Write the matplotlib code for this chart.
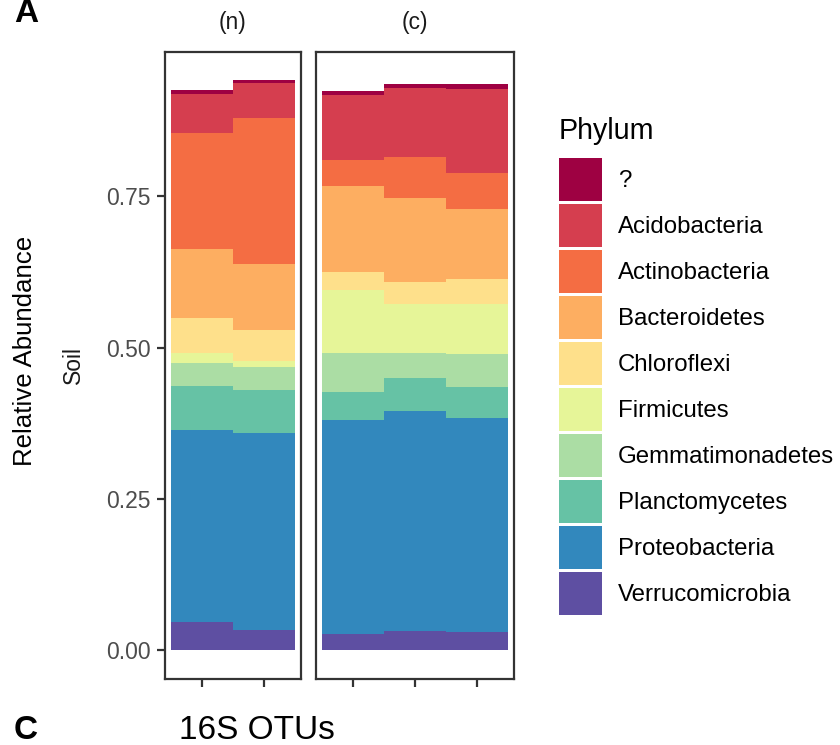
import matplotlib
matplotlib.use("Agg")
import matplotlib.pyplot as plt
from matplotlib.patches import Patch
import numpy as np

plt.rcParams['font.family'] = ['Liberation Sans', 'DejaVu Sans']

# Phyla (legend order, top of stack first) and Spectral palette
phyla = ['?', 'Acidobacteria', 'Actinobacteria', 'Bacteroidetes', 'Chloroflexi',
         'Firmicutes', 'Gemmatimonadetes', 'Planctomycetes', 'Proteobacteria',
         'Verrucomicrobia']
colors = ['#9E0142', '#D53E4F', '#F46D43', '#FDAE61', '#FEE08B',
          '#E6F598', '#ABDDA4', '#66C2A5', '#3288BD', '#5E4FA2']

# Facets and number of samples in each
facets = ['(n)', '(c)']
n_samples = [2, 3]

# Relative abundance per sample: n1, n2, c1, c2, c3
unknown = [0.0065, 0.005, 0.008, 0.007, 0.008]
acidobacteria = [0.064, 0.058, 0.107, 0.114, 0.140]
actinobacteria = [0.193, 0.240, 0.043, 0.068, 0.058]
bacteroidetes = [0.114, 0.109, 0.142, 0.139, 0.117]
chloroflexi = [0.058, 0.051, 0.030, 0.036, 0.041]
firmicutes = [0.015, 0.010, 0.104, 0.081, 0.083]
gemmatimonadetes = [0.038, 0.038, 0.064, 0.041, 0.054]
planctomycetes = [0.0726, 0.071, 0.046, 0.054, 0.051]
proteobacteria = [0.318, 0.326, 0.354, 0.364, 0.353]
verrucomicrobia = [0.047, 0.034, 0.027, 0.032, 0.031]

series = [unknown, acidobacteria, actinobacteria, bacteroidetes, chloroflexi,
          firmicutes, gemmatimonadetes, planctomycetes, proteobacteria,
          verrucomicrobia]

yticks = [0.0, 0.25, 0.5, 0.75]
ytick_labels = ['0.00', '0.25', '0.50', '0.75']

W, H = 840, 745
fig = plt.figure(figsize=(W / 100, H / 100), dpi=100)

top_px, bot_px = 51.7, 679
panel_left = [165, 316]
panel_width = [136, 198]

data = np.array(series)  # (phyla, samples)
totals = data.sum(axis=0)
ymax = totals.max()
ylim = (-0.05 * ymax, 1.05 * ymax)

border_col = '#333333'
small = 16.5

start = 0
axes = []
for fi, (facet, ns) in enumerate(zip(facets, n_samples)):
    ax = fig.add_axes([panel_left[fi] / W, (H - bot_px) / H,
                       panel_width[fi] / W, (bot_px - top_px) / H])
    axes.append(ax)
    cols = data[:, start:start + ns]
    x = np.arange(1, ns + 1)
    bottom = np.zeros(ns)
    # stack from the bottom (Verrucomicrobia) up to '?'
    for k in range(len(phyla) - 1, -1, -1):
        ax.bar(x, cols[k], width=1.0, bottom=bottom, color=colors[k],
               linewidth=0, align='center')
        bottom += cols[k]
    start += ns
    ax.set_xlim(0.4, ns + 0.6)
    ax.set_ylim(*ylim)
    ax.set_xticks(x)
    ax.set_xticklabels([''] * ns)
    for s in ax.spines.values():
        s.set_color(border_col)
        s.set_linewidth(1.6)
    ax.tick_params(axis='both', color=border_col, width=1.6, length=6,
                   labelsize=small, labelcolor='#4D4D4D', pad=4)
    ax.set_yticks(yticks)
    if fi == 0:
        ax.set_yticklabels(ytick_labels)
    else:
        ax.tick_params(axis='y', left=False, labelleft=False)
    cx = (panel_left[fi] + panel_width[fi] / 2) / W
    fig.text(cx, 1 - 22 / H, facet, ha='center', va='center',
             fontsize=small, color='#1A1A1A')

mid_y = 1 - ((top_px + bot_px) / 2) / H
fig.text(73 / W, mid_y, 'Soil', rotation=90, ha='center', va='center',
         fontsize=small, color='#1A1A1A')
fig.text(25 / W, 1 - 351 / H, 'Relative Abundance', rotation=90, ha='center',
         va='center', fontsize=18.6, color='black')

fig.text(14 / W, 1 - 22 / H, 'A', fontsize=24, fontweight='bold',
         ha='left', va='baseline')
fig.text(14 / W, 6 / H, 'C', fontsize=24, fontweight='bold',
         ha='left', va='baseline')
fig.text(179 / W, 6 / H, '16S OTUs', fontsize=24, ha='left', va='baseline')

# legend keys: 43 px squares with 3 px gaps
handles = [Patch(facecolor=c, edgecolor='none', label=p)
           for p, c in zip(phyla, colors)]
leg_fs = 17.3
fs_px = leg_fs * 100 / 72
key_px = 43
hh = (key_px / fs_px - 0.245) / 0.65
leg = fig.legend(handles=handles, loc='upper left',
                 bbox_to_anchor=(559 / W, 1 - 117 / H), frameon=False,
                 fontsize=leg_fs, title='Phylum', title_fontsize=20.6,
                 alignment='left', handlelength=key_px / fs_px,
                 handleheight=hh, labelspacing=3 / fs_px,
                 handletextpad=16 / fs_px, borderpad=0, borderaxespad=0)
# extra room between the title and the first key
leg._legend_box.sep = 9.4

fig.savefig('out.png', dpi=100)
